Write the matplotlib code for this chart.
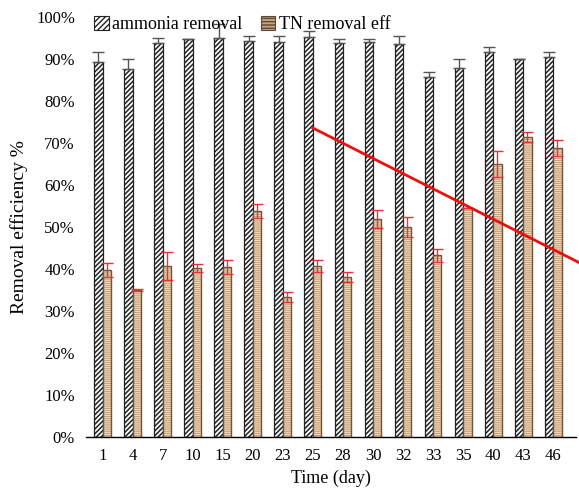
import matplotlib
matplotlib.use('Agg')
import matplotlib.pyplot as plt
import numpy as np
from matplotlib.patches import Patch

plt.rcParams['font.family'] = ['Liberation Serif', 'DejaVu Serif']

days = ['1', '4', '7', '10', '15', '20', '23', '25', '28', '30', '32', '33', '35', '40', '43', '46']
ammonia = [89.3, 87.6, 93.8, 94.8, 95.0, 94.3, 94.0, 95.2, 93.8, 94.0, 93.5, 85.7, 87.9, 91.6, 90.0, 90.5]
ammonia_err = [2.4, 2.4, 1.2, 0, 3.3, 1.2, 1.5, 1.5, 1.0, 0.8, 2.0, 1.2, 2.1, 1.4, 0, 1.2]
tn = [39.8, 35.0, 40.7, 40.2, 40.5, 53.8, 33.3, 40.7, 38.1, 51.9, 50.0, 43.3, 54.5, 65.0, 71.4, 68.8]
tn_err = [1.6, 0.2, 3.3, 1.0, 1.6, 1.7, 1.2, 1.4, 1.2, 2.1, 2.4, 1.5, 0, 3.1, 1.2, 1.9]
trend_x = [7, 15.9]
trend_y = [73.6, 41.4]

fig = plt.figure(figsize=(5.79, 5.01), dpi=100)
fig.patch.set_facecolor('white')
ax = fig.add_axes([0.1485, 0.1277, 0.846, 0.838])

x = np.arange(len(days))
w = 0.28
tan = '#c9a27c'

# ammonia bars: white with dark diagonal hatch
with plt.rc_context({'hatch.linewidth': 1.1}):
    ax.bar(x - w / 2, ammonia, width=w, color='white', edgecolor='#222222',
           hatch='///////', linewidth=0.9, zorder=2)
    leg_a = Patch(facecolor='white', edgecolor='#222222', hatch='//////', linewidth=0.8)
ax.errorbar(x - w / 2, ammonia, yerr=[np.zeros(len(x)), ammonia_err], fmt='none',
            ecolor='#555555', elinewidth=1, capsize=4, capthick=1, zorder=3)

# TN bars: tan with thin light horizontal stripes and brown outline
with plt.rc_context({'hatch.linewidth': 0.5}):
    ax.bar(x + w / 2, tn, width=w, color=tan, edgecolor='#fff2d8',
           hatch='--------', linewidth=0, zorder=2)
    leg_t = Patch(facecolor=tan, edgecolor='#5a4a3a', hatch='-----', linewidth=0.8)
ax.bar(x + w / 2, tn, width=w, color='none', edgecolor='#6b5540',
       linewidth=1.0, zorder=2)
ax.errorbar(x + w / 2, tn, yerr=tn_err, fmt='none',
            ecolor='#e8303a', elinewidth=1, capsize=4, capthick=1, zorder=3)

# red trend line
ax.plot(trend_x, trend_y, color='#e81010', linewidth=2, clip_on=False, zorder=4)

ax.set_xlim(-0.55, 15.75)
ax.set_ylim(0, 100)
ax.set_yticks(np.arange(0, 101, 10))
ax.set_yticklabels([f'{v}%' for v in range(0, 101, 10)], fontsize=12)
ax.set_xticks(x)
ax.set_xticklabels(days, fontsize=12)
ax.tick_params(axis='both', length=0, pad=8)

for s in ['top', 'right', 'left']:
    ax.spines[s].set_visible(False)
ax.spines['bottom'].set_linewidth(1)

ax.set_xlabel('Time (day)', fontsize=13, labelpad=4)
ax.set_ylabel('Removal efficiency %', fontsize=14, labelpad=6)

fig.legend([leg_a, leg_t], ['ammonia removal', 'TN removal eff'], loc='upper left',
           bbox_to_anchor=(0.135, 1.0), ncol=2, frameon=False, fontsize=13,
           handlelength=0.8, handleheight=0.8, handletextpad=0.2, columnspacing=1.0)

plt.savefig('out.png', dpi=100, facecolor='white')
